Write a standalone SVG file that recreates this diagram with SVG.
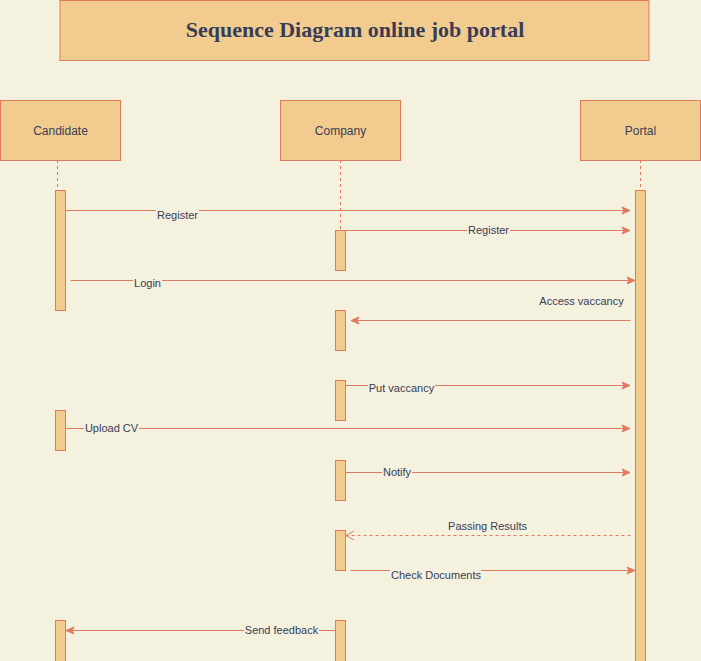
<svg xmlns="http://www.w3.org/2000/svg" width="701" height="661" viewBox="0 0 701 661">
<style>
.box{fill:#F2CC8F;stroke:#E07A5F;stroke-width:1}
.bar{fill:#F2CC8F;stroke:#E07A5F;stroke-width:1}
.life{stroke:#E07A5F;stroke-width:1;stroke-dasharray:3 3;fill:none}
.msg{stroke:#E07A5F;stroke-width:1;fill:none;marker-end:url(#block)}
.ret{stroke:#E07A5F;stroke-width:1;fill:none;stroke-dasharray:3 3;marker-end:url(#open)}
.lbl{font-family:"Liberation Sans",Arial,sans-serif;font-size:11px;fill:#393C56;text-anchor:middle}
.act{font-family:"Liberation Sans",Arial,sans-serif;font-size:12px;fill:#393C56;text-anchor:middle}
.lbg{fill:#F4F1DE}
</style>
<defs>
<marker id="block" viewBox="-1 -5 11 10" refX="8" refY="0" markerWidth="11" markerHeight="10" markerUnits="userSpaceOnUse" orient="auto">
<path d="M0,-3.5 L8,0 L0,3.5 L2,0 z" fill="#E07A5F" stroke="#E07A5F" stroke-width="1"/>
</marker>
<marker id="open" viewBox="-10 -6 11 12" refX="0" refY="0" markerWidth="11" markerHeight="12" markerUnits="userSpaceOnUse" orient="auto">
<path d="M-8,-4.5 L0,0 L-8,4.5" fill="none" stroke="#E07A5F" stroke-width="1"/>
</marker>
</defs>
<rect x="0" y="0" width="701" height="661" fill="#F4F1DE"/>

<g id="title">
<rect class="box" x="60" y="0.5" width="589" height="60"/>
<text x="355" y="37" font-family="'Liberation Serif','Times New Roman',serif" font-size="22" font-weight="bold" fill="#393C56" text-anchor="middle">Sequence Diagram online job portal</text>
</g>

<g id="lifelines">
<line class="life" x1="57.5" y1="160" x2="57.5" y2="190"/>
<line class="life" x1="340.5" y1="160" x2="340.5" y2="230"/>
<line class="life" x1="640.5" y1="160" x2="640.5" y2="190"/>
</g>

<g id="candidate">
<rect class="box" x="0.5" y="100.5" width="120" height="60"/>
<text class="act" x="60.5" y="134.5">Candidate</text>
</g>
<g id="company">
<rect class="box" x="280.5" y="100.5" width="120" height="60"/>
<text class="act" x="340.5" y="134.5">Company</text>
</g>
<g id="portal">
<rect class="box" x="580.5" y="100.5" width="120" height="60"/>
<text class="act" x="640.5" y="134.5">Portal</text>
</g>

<g id="activations">
<rect class="bar" x="55.5" y="190.5" width="10" height="120"/>
<rect class="bar" x="55.5" y="410.5" width="10" height="40"/>
<rect class="bar" x="55.5" y="620.5" width="10" height="45"/>
<rect class="bar" x="335.5" y="230.5" width="10" height="40"/>
<rect class="bar" x="335.5" y="310.5" width="10" height="40"/>
<rect class="bar" x="335.5" y="380.5" width="10" height="40"/>
<rect class="bar" x="335.5" y="460.5" width="10" height="40"/>
<rect class="bar" x="335.5" y="530.5" width="10" height="40"/>
<rect class="bar" x="335.5" y="620.5" width="10" height="45"/>
<rect class="bar" x="635.5" y="190.5" width="10" height="475"/>
</g>

<g id="connectors">
<path class="msg" d="M65.5,210.5 L630,210.5"/>
<path class="msg" d="M345.5,230.5 L630,230.5"/>
<path class="msg" d="M70.5,280.5 L635,280.5"/>
<path class="msg" d="M630.5,320.5 L351,320.5"/>
<path class="msg" d="M345.5,385.5 L630,385.5"/>
<path class="msg" d="M65.5,428.5 L630,428.5"/>
<path class="msg" d="M345.5,472.5 L630,472.5"/>
<path class="ret" d="M630.5,535.5 L346,535.5"/>
<path class="msg" d="M350.5,570.5 L635,570.5"/>
<path class="msg" d="M335.5,630.5 L66,630.5"/>
</g>

<g id="labels">
<rect class="lbg" x="156" y="208" width="43" height="13"/>
<text class="lbl" x="177.5" y="219">Register</text>
<rect class="lbg" x="467" y="224" width="43" height="13"/>
<text class="lbl" x="488.5" y="234">Register</text>
<rect class="lbg" x="133" y="277" width="29" height="13"/>
<text class="lbl" x="147.5" y="287">Login</text>
<text class="lbl" x="581.5" y="305">Access vaccancy</text>
<rect class="lbg" x="368" y="382" width="67" height="13"/>
<text class="lbl" x="401.5" y="392">Put vaccancy</text>
<rect class="lbg" x="84" y="422" width="55" height="13"/>
<text class="lbl" x="111.5" y="432">Upload CV</text>
<rect class="lbg" x="382" y="466" width="30" height="13"/>
<text class="lbl" x="397" y="476">Notify</text>
<text class="lbl" x="487.5" y="530">Passing Results</text>
<rect class="lbg" x="390" y="568" width="91" height="13"/>
<text class="lbl" x="436" y="579">Check Documents</text>
<rect class="lbg" x="244" y="624" width="75" height="13"/>
<text class="lbl" x="281.5" y="634">Send feedback</text>
</g>
</svg>
